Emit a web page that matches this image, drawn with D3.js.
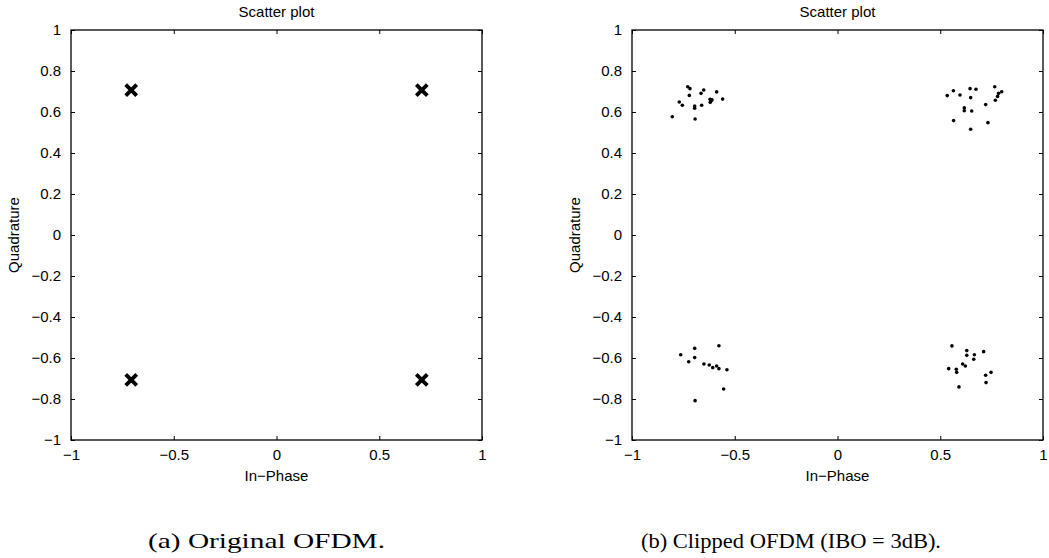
<!DOCTYPE html>
<html>
<head>
<meta charset="utf-8">
<script src="https://cdn.jsdelivr.net/npm/d3@7"></script>
<style>
html,body{margin:0;padding:0;background:#fff;}
svg{display:block;}
</style>
</head>
<body>
<svg id="chart" width="1049" height="558"></svg>
<script>
// ---- data ----
const xTicks = [-1, -0.5, 0, 0.5, 1];
const xTickLabels = ["\u22121", "\u22120.5", "0", "0.5", "1"];
const yTicks = [-1, -0.8, -0.6, -0.4, -0.2, 0, 0.2, 0.4, 0.6, 0.8, 1];
const yTickLabels = ["\u22121", "\u22120.8", "\u22120.6", "\u22120.4", "\u22120.2", "0", "0.2", "0.4", "0.6", "0.8", "1"];

const titles = ["Scatter plot", "Scatter plot"];
const xLabels = ["In\u2212Phase", "In\u2212Phase"];
const yLabels = ["Quadrature", "Quadrature"];
const captions = ["(a)  Original OFDM.", "(b)  Clipped OFDM (IBO = 3dB)."];

// original QPSK constellation
const origI = [-0.7071, 0.7071, -0.7071, 0.7071];
const origQ = [0.7071, 0.7071, -0.7071, -0.7071];

// clipped OFDM samples
const clipI = [
  -0.729, -0.718, -0.721, -0.770, -0.755, -0.804, -0.695, -0.695, -0.693, -0.661, -0.664, -0.651, -0.620, -0.616, -0.619, -0.611, -0.588, -0.559,
  0.534, 0.564, 0.596, 0.645, 0.674, 0.648, 0.765, 0.784, 0.779, 0.799, 0.768, 0.721, 0.617, 0.617, 0.653, 0.565, 0.732, 0.648,
  -0.763, -0.724, -0.695, -0.695, -0.650, -0.624, -0.607, -0.588, -0.577, -0.577, -0.538, -0.554, -0.693,
  0.557, 0.629, 0.629, 0.666, 0.711, 0.663, 0.609, 0.622, 0.541, 0.578, 0.580, 0.721, 0.747, 0.723, 0.591
];
const clipQ = [
  0.723, 0.714, 0.681, 0.649, 0.633, 0.577, 0.629, 0.618, 0.566, 0.633, 0.691, 0.707, 0.662, 0.655, 0.647, 0.659, 0.698, 0.663,
  0.680, 0.704, 0.683, 0.714, 0.711, 0.670, 0.723, 0.691, 0.676, 0.699, 0.657, 0.636, 0.620, 0.606, 0.605, 0.558, 0.548, 0.516,
  -0.584, -0.618, -0.553, -0.598, -0.629, -0.634, -0.647, -0.639, -0.540, -0.652, -0.657, -0.751, -0.808,
  -0.541, -0.564, -0.587, -0.584, -0.569, -0.606, -0.629, -0.639, -0.652, -0.655, -0.670, -0.684, -0.670, -0.720, -0.741
];

// ---- drawing ----
const svg = d3.select("#chart");
const SANS = '"Liberation Sans", Arial, Helvetica, sans-serif';
const SERIF = '"Liberation Serif", "DejaVu Serif", serif';
const panels = [
  {left: 71, top: 30, w: 411, h: 410, capX: 266.5, capW: 237},
  {left: 632, top: 30, w: 411, h: 410, capX: 791, capW: 300}
];
const FS = 15;

function drawAxes(p, idx) {
  const g = svg.append("g").attr("transform", `translate(${p.left},${p.top})`);
  const x = d3.scaleLinear().domain([-1, 1]).range([0, p.w]);
  const y = d3.scaleLinear().domain([-1, 1]).range([p.h, 0]);
  const tl = 4;

  const bottom = d3.axisBottom(x).tickValues(xTicks).tickSizeInner(-tl).tickSizeOuter(0)
    .tickPadding(9).tickFormat((d, i) => xTickLabels[i]);
  const top = d3.axisTop(x).tickValues(xTicks).tickSizeInner(-tl).tickSizeOuter(0).tickFormat("");
  const leftA = d3.axisLeft(y).tickValues(yTicks).tickSizeInner(-tl).tickSizeOuter(0)
    .tickPadding(10).tickFormat((d, i) => yTickLabels[i]);
  const rightA = d3.axisRight(y).tickValues(yTicks).tickSizeInner(-tl).tickSizeOuter(0).tickFormat("");

  const gb = g.append("g").attr("transform", `translate(0,${p.h})`).call(bottom);
  const gt = g.append("g").call(top);
  const gl = g.append("g").call(leftA);
  const gr = g.append("g").attr("transform", `translate(${p.w},0)`).call(rightA);
  [gb, gt, gl, gr].forEach(a => {
    a.select(".domain").remove();
    a.selectAll(".tick line").attr("stroke", "#000").attr("stroke-width", 1);
    a.selectAll("text").style("font-size", FS + "px").style("font-family", SANS).attr("fill", "#000");
  });
  gb.selectAll(".tick text").attr("dy", "0.71em");

  g.append("rect").attr("x", 0).attr("y", 0).attr("width", p.w).attr("height", p.h)
    .attr("fill", "none").attr("stroke", "#000").attr("stroke-width", 1.3);

  g.append("text").attr("x", p.w / 2).attr("y", -13).attr("text-anchor", "middle")
    .style("font-family", SANS).style("font-size", FS + "px").text(titles[idx]);
  g.append("text").attr("x", p.w / 2).attr("y", p.h + 41).attr("text-anchor", "middle")
    .style("font-family", SANS).style("font-size", FS + "px").text(xLabels[idx]);
  g.append("text").attr("transform", `translate(-52,${p.h / 2}) rotate(-90)`)
    .attr("text-anchor", "middle")
    .style("font-family", SANS).style("font-size", FS + "px").text(yLabels[idx]);

  svg.append("text").attr("x", p.capX).attr("y", 548).attr("text-anchor", "middle")
    .style("font-family", SERIF).style("font-size", "22px")
    .attr("textLength", p.capW).attr("lengthAdjust", "spacingAndGlyphs")
    .attr("fill", "#000")
    .text(captions[idx]);

  return {g, x, y};
}

// left: original
const A = drawAxes(panels[0], 0);
const s = 5.5;
A.g.append("g").selectAll("path").data(origI.map((v, i) => [v, origQ[i]])).join("path")
  .attr("transform", d => `translate(${A.x(d[0])},${A.y(d[1])})`)
  .attr("d", `M${-s},${-s}L${s},${s}M${-s},${s}L${s},${-s}`)
  .attr("stroke", "#000").attr("stroke-width", 3.8).attr("fill", "none");

// right: clipped
const B = drawAxes(panels[1], 1);
B.g.append("g").selectAll("circle").data(clipI.map((v, i) => [v, clipQ[i]])).join("circle")
  .attr("cx", d => B.x(d[0])).attr("cy", d => B.y(d[1])).attr("r", 1.8).attr("fill", "#000");
</script>
</body>
</html>
